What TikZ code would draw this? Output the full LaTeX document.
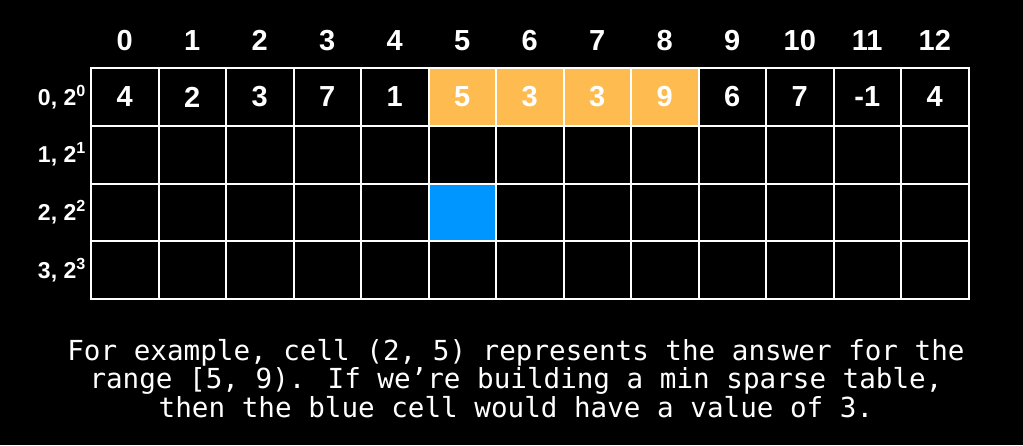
\documentclass[tikz,border=0pt]{standalone}
\usepackage{fontspec}
\setmainfont{Liberation Sans}
\newfontfamily\captionmono{DejaVu Sans Mono}
\usetikzlibrary{positioning}
\definecolor{rangeorange}{HTML}{FDBB50}
\definecolor{queryblue}{HTML}{0096FF}
\tikzset{
    cell/.style={rectangle, draw=white, line width=2pt, minimum width=67.5pt, minimum height=57.75pt,
        inner sep=0pt, outer sep=0pt, text=white, font=\bfseries\fontsize{29}{29}\selectfont},
    range cell/.style={cell, fill=rangeorange},
    query cell/.style={cell, fill=queryblue},
    index/.style={inner sep=0pt, text=white, font=\bfseries\fontsize{29}{29}\selectfont},
    level/.style={inner sep=0pt, text=white, anchor=east, font=\bfseries\fontsize{23}{23}\selectfont},
    caption/.style={inner sep=0pt, text=white, align=center, font=\captionmono\fontsize{27.6}{28.5}\selectfont}
}
\begin{document}
\begin{tikzpicture}
    \fill[black] (0pt,0pt) rectangle (1023pt,-445pt);
    \useasboundingbox (0pt,0pt) rectangle (1023pt,-445pt);
    % row 0: the input array
    \node[cell] (cell0-0) at (124.75pt,-96.9pt) {4};
    \node[cell, right=0pt of cell0-0] (cell0-1) {2};
    \node[cell, right=0pt of cell0-1] (cell0-2) {3};
    \node[cell, right=0pt of cell0-2] (cell0-3) {7};
    \node[cell, right=0pt of cell0-3] (cell0-4) {1};
    \node[range cell, right=0pt of cell0-4] (cell0-5) {5};
    \node[range cell, right=0pt of cell0-5] (cell0-6) {3};
    \node[range cell, right=0pt of cell0-6] (cell0-7) {3};
    \node[range cell, right=0pt of cell0-7] (cell0-8) {9};
    \node[cell, right=0pt of cell0-8] (cell0-9) {6};
    \node[cell, right=0pt of cell0-9] (cell0-10) {7};
    \node[cell, right=0pt of cell0-10] (cell0-11) {-1};
    \node[cell, right=0pt of cell0-11] (cell0-12) {4};
    % row 1
    \node[cell, below=0pt of cell0-0] (cell1-0) {};
    \node[cell, right=0pt of cell1-0] (cell1-1) {};
    \node[cell, right=0pt of cell1-1] (cell1-2) {};
    \node[cell, right=0pt of cell1-2] (cell1-3) {};
    \node[cell, right=0pt of cell1-3] (cell1-4) {};
    \node[cell, right=0pt of cell1-4] (cell1-5) {};
    \node[cell, right=0pt of cell1-5] (cell1-6) {};
    \node[cell, right=0pt of cell1-6] (cell1-7) {};
    \node[cell, right=0pt of cell1-7] (cell1-8) {};
    \node[cell, right=0pt of cell1-8] (cell1-9) {};
    \node[cell, right=0pt of cell1-9] (cell1-10) {};
    \node[cell, right=0pt of cell1-10] (cell1-11) {};
    \node[cell, right=0pt of cell1-11] (cell1-12) {};
    % row 2
    \node[cell, below=0pt of cell1-0] (cell2-0) {};
    \node[cell, right=0pt of cell2-0] (cell2-1) {};
    \node[cell, right=0pt of cell2-1] (cell2-2) {};
    \node[cell, right=0pt of cell2-2] (cell2-3) {};
    \node[cell, right=0pt of cell2-3] (cell2-4) {};
    \node[query cell, right=0pt of cell2-4] (cell2-5) {};
    \node[cell, right=0pt of cell2-5] (cell2-6) {};
    \node[cell, right=0pt of cell2-6] (cell2-7) {};
    \node[cell, right=0pt of cell2-7] (cell2-8) {};
    \node[cell, right=0pt of cell2-8] (cell2-9) {};
    \node[cell, right=0pt of cell2-9] (cell2-10) {};
    \node[cell, right=0pt of cell2-10] (cell2-11) {};
    \node[cell, right=0pt of cell2-11] (cell2-12) {};
    % row 3
    \node[cell, below=0pt of cell2-0] (cell3-0) {};
    \node[cell, right=0pt of cell3-0] (cell3-1) {};
    \node[cell, right=0pt of cell3-1] (cell3-2) {};
    \node[cell, right=0pt of cell3-2] (cell3-3) {};
    \node[cell, right=0pt of cell3-3] (cell3-4) {};
    \node[cell, right=0pt of cell3-4] (cell3-5) {};
    \node[cell, right=0pt of cell3-5] (cell3-6) {};
    \node[cell, right=0pt of cell3-6] (cell3-7) {};
    \node[cell, right=0pt of cell3-7] (cell3-8) {};
    \node[cell, right=0pt of cell3-8] (cell3-9) {};
    \node[cell, right=0pt of cell3-9] (cell3-10) {};
    \node[cell, right=0pt of cell3-10] (cell3-11) {};
    \node[cell, right=0pt of cell3-11] (cell3-12) {};
    % column indices
    \node[index] (idx0) at ([yshift=56.5pt]cell0-0) {0};
    \node[index] (idx1) at ([yshift=56.5pt]cell0-1) {1};
    \node[index] (idx2) at ([yshift=56.5pt]cell0-2) {2};
    \node[index] (idx3) at ([yshift=56.5pt]cell0-3) {3};
    \node[index] (idx4) at ([yshift=56.5pt]cell0-4) {4};
    \node[index] (idx5) at ([yshift=56.5pt]cell0-5) {5};
    \node[index] (idx6) at ([yshift=56.5pt]cell0-6) {6};
    \node[index] (idx7) at ([yshift=56.5pt]cell0-7) {7};
    \node[index] (idx8) at ([yshift=56.5pt]cell0-8) {8};
    \node[index] (idx9) at ([yshift=56.5pt]cell0-9) {9};
    \node[index] (idx10) at ([yshift=56.5pt]cell0-10) {10};
    \node[index] (idx11) at ([yshift=56.5pt]cell0-11) {11};
    \node[index] (idx12) at ([yshift=56.5pt]cell0-12) {12};
    % row levels
    \node[level, left=5pt of cell0-0] (lvl0) {0, 2\textsuperscript{0}};
    \node[level, left=5pt of cell1-0] (lvl1) {1, 2\textsuperscript{1}};
    \node[level, left=5pt of cell2-0] (lvl2) {2, 2\textsuperscript{2}};
    \node[level, left=5pt of cell3-0] (lvl3) {3, 2\textsuperscript{3}};
    % explanation
    \node[caption, below=40pt of cell3-6.south west, xshift=20pt] (note) {For example, cell (2, 5) represents the answer for the\\
        range [5, 9). If we’re building a min sparse table,\\
        then the blue cell would have a value of 3.};
\end{tikzpicture}
\end{document}
